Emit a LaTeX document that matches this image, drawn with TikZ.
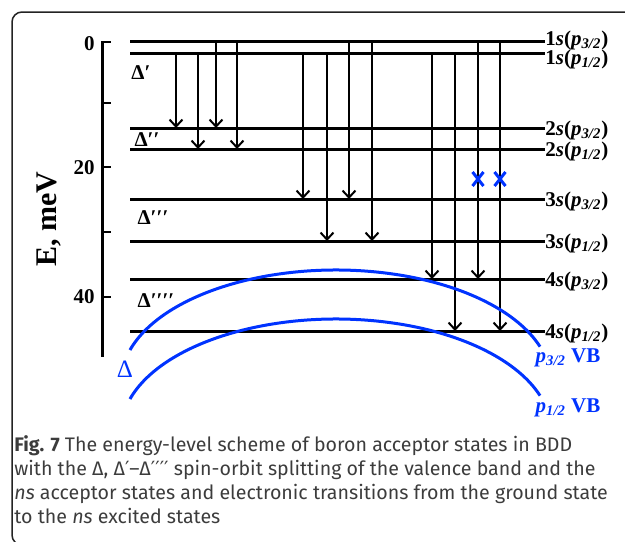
\documentclass[tikz,border=0pt]{standalone}
\usepackage{fontspec}
\setmainfont{Liberation Serif}
\newfontfamily\legfont{Fira Sans}
\newfontfamily\primfont{DejaVu Sans}
\usetikzlibrary{arrows.meta,calc}
\newlength{\px}
\setlength{\px}{0.5pt}
\definecolor{bandblue}{RGB}{0,51,255}
\definecolor{cadregris}{RGB}{35,35,35}
\definecolor{textegris}{RGB}{60,60,60}
\newcommand{\Etat}[2]{#1\textit{s}(\textit{p}\textsubscript{\textit{#2}})}
\newcommand{\Prim}[1]{{\primfont #1}}
\newcommand{\Niveau}[5]{%
	\coordinate (#1) at (130,#2);%
	\coordinate (#1e) at (545,#2);%
	\draw[lvl] (#1) -- (#1e);%
	\node[lvllab] (#1lab) at ($(#1e)+(0,#5)$) {\Etat{#3}{#4}};%
}
\tikzset{
	lvl/.style={line width=1.5pt},
	lvllab/.style={anchor=base west,inner sep=0pt,font=\bfseries\fontsize{10.5}{12}\selectfont},
	trans/.style={line width=1pt,-{Straight Barb[length=3.5pt,width=6.5pt,line width=1pt]}},
	axe/.style={line width=1.5pt},
	grad/.style={line width=1pt},
	gradlab/.style={anchor=east,inner sep=0pt,font=\bfseries\fontsize{10.5}{12}\selectfont},
	deltalab/.style={inner sep=0pt,font=\bfseries\fontsize{10.5}{12}\selectfont},
	bande/.style={line width=1.5pt,color=bandblue},
	vblab/.style={inner sep=0pt,text=bandblue,font=\bfseries\fontsize{10.5}{12}\selectfont},
	croix/.style={line width=1.5pt,color=bandblue},
	legende/.style={anchor=base west,inner sep=0pt,text=textegris,font=\legfont\fontsize{9.8}{12}\selectfont},
}

\begin{document}
\begin{tikzpicture}[x=\px,y=-\px]
	\useasboundingbox (0,0) rectangle (625,541);
	
	% cadre arrondi
	\draw[line width=0.75pt,color=cadregris,rounded corners=5pt]
	(640,12) -- (12,12) -- (12,545) -- (40,545);
	
	% axe des énergies
	\draw[axe] (102,41) -- (102,357);
	\foreach \e/\yy in {0/42,10/103,20/167,30/232,40/297}{
		\draw[grad] (102,\yy) -- (111,\yy);
	}
	\foreach \e/\yy in {0/44,20/168,40/297}{
		\node[gradlab] (g\e) at (95,\yy) {\e};
	}
	\node[rotate=90,inner sep=0pt,font=\bfseries\fontsize{15}{18}\selectfont] (elab) at (49,219) {E, meV};
	
	% niveaux accepteurs
	\Niveau{L1}{41}{1}{3/2}{4}
	\Niveau{L2}{53}{1}{1/2}{11}
	\Niveau{L3}{128}{2}{3/2}{7}
	\Niveau{L4}{149}{2}{1/2}{7}
	\Niveau{L5}{199}{3}{3/2}{7}
	\Niveau{L6}{241}{3}{1/2}{7}
	\Niveau{L7}{279}{4}{3/2}{7}
	\Niveau{L8}{331}{4}{1/2}{7}
	
	% éclatements spin-orbite
	\node[deltalab] (d1) at (141,73) {Δ′};
	\node[deltalab] (d2) at (147,140) {Δ′′};
	\node[deltalab] (d3) at (153,218) {Δ′′′};
	\node[deltalab] (d4) at (156,301) {Δ′′′′};
	
	% transitions depuis l'état fondamental
	\foreach \xa/\xb/\xc/\xd/\hi/\lo in {176/198/216/237/L3/L4,303/327/349/372/L5/L6,432/455/478/500/L7/L8}{
		\draw[trans] (L2 -| \xa,0) -- (\hi -| \xa,0);
		\draw[trans] (L2 -| \xb,0) -- (\lo -| \xb,0);
		\draw[trans] (L1 -| \xc,0) -- (\hi -| \xc,0);
		\draw[trans] (L1 -| \xd,0) -- (\lo -| \xd,0);
	}
	
	% transitions interdites
	\foreach \xx in {478,500}{
		\draw[croix] (\xx-5.5,172) -- (\xx+5.5,186);
		\draw[croix] (\xx-5.5,186) -- (\xx+5.5,172);
	}
	
	% bandes de valence
	\draw[bande] (336,382) ++(196.6:215 and 112) coordinate (b32a)
	arc[start angle=196.6,end angle=341.6,x radius=215,y radius=112] coordinate (b32b);
	\draw[bande] (336,431) ++(196.6:215 and 112) coordinate (b12a)
	arc[start angle=196.6,end angle=341.6,x radius=215,y radius=112] coordinate (b12b);
	\node[text=bandblue,inner sep=0pt,font=\fontsize{12.5}{14}\selectfont] (delta) at (125,369) {Δ};
	\node[vblab] (vb32) at (568,358) {\textit{p}\textsubscript{\textit{3/2}} VB};
	\node[vblab] (vb12) at (568,408) {\textit{p}\textsubscript{\textit{1/2}} VB};
	
	% légende
	\node[legende] (leg1) at (14,451) {\textbf{Fig. 7} The energy-level scheme of boron acceptor states in BDD};
	\node[legende] (leg2) at (14,475) {with the Δ, Δ\Prim{′}–Δ\Prim{′′′′} spin-orbit splitting of the valence band and the};
	\node[legende] (leg3) at (14,499) {\textit{ns} acceptor states and electronic transitions from the ground state};
	\node[legende] (leg4) at (14,523) {to the \textit{ns} excited states};
	
\end{tikzpicture}
\end{document}
